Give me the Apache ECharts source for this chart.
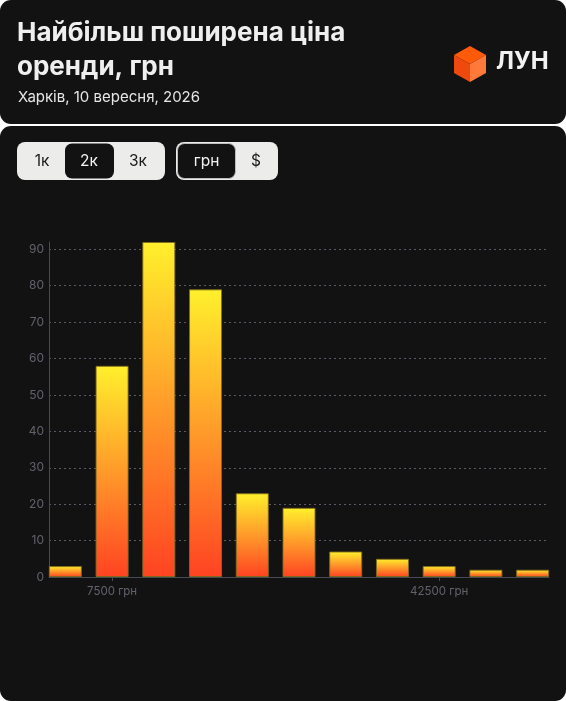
<!DOCTYPE html>
<html><head><meta charset="utf-8">
<script src="https://cdn.jsdelivr.net/npm/echarts@6/dist/echarts.min.js"></script>
<style>html,body{margin:0;padding:0;background:#fff}#c{width:566px;height:701px}</style>
</head><body><div id="c"></div>
<script>
const priceBins = [2500, 7500, 12500, 17500, 22500, 27500, 32500, 37500, 42500, 47500, 52500];
const counts = [3, 58, 92, 79, 23, 19, 7, 5, 3, 2, 2];
const xTickValues = [7500, 42500];
const yTicks = [0, 10, 20, 30, 40, 50, 60, 70, 80, 90];
const titleText = 'Найбільш поширена ціна\nоренди, грн';
const subtitleText = 'Харків, 10 вересня, 2026';
const stepButtons = ['1к', '2к', '3к'];
const currencyButtons = ['грн', '$'];

const chart = echarts.init(document.getElementById('c'), null, {renderer: 'canvas'});
const FONT = 'Inter, "Noto Sans", sans-serif';
const dark = '#121212';
const light = '#ececea';

const graphics = [
  {type: 'rect', z: -10, shape: {x: 0, y: 0, width: 566, height: 124, r: 11}, style: {fill: dark}},
  {type: 'rect', z: -10, shape: {x: 0, y: 126, width: 566, height: 575, r: 11}, style: {fill: dark}},
  {type: 'text', left: 17, top: 16, style: {text: titleText, fill: '#efefef', font: '700 26px ' + FONT, lineHeight: 34}},
  {type: 'text', left: 18, top: 90, style: {text: subtitleText, fill: '#e6e6e6', font: '400 15px ' + FONT}},
  // logo cube
  {type: 'polygon', shape: {points: [[470, 46], [486, 55], [470, 64], [454, 55]]}, style: {fill: '#ff5a0a'}},
  {type: 'polygon', shape: {points: [[454, 55], [470, 64], [470, 82], [454, 73]]}, style: {fill: '#ee4a10'}},
  {type: 'polygon', shape: {points: [[486, 55], [470, 64], [470, 82], [486, 73]]}, style: {fill: '#ff7a3a'}},
  {type: 'text', left: 496, top: 50, style: {text: 'ЛУН', fill: '#f2f2f2', font: '700 24px ' + FONT}},
  // buttons group 1
  {type: 'rect', shape: {x: 17, y: 142, width: 148, height: 38, r: 8}, style: {fill: light}},
  {type: 'rect', shape: {x: 65, y: 143.5, width: 49, height: 35, r: 7}, style: {fill: dark}},
  // buttons group 2
  {type: 'rect', shape: {x: 176, y: 142, width: 102, height: 38, r: 8}, style: {fill: light}},
  {type: 'rect', shape: {x: 177.5, y: 143.5, width: 58, height: 35, r: 7}, style: {fill: dark, stroke: '#bdbdbd', lineWidth: 1}}
];
const btnX1 = [42, 89, 138];
stepButtons.forEach((t, i) => graphics.push({type: 'text', x: btnX1[i], y: 161, style: {text: t, fill: i === 1 ? '#f2f2f2' : '#1a1a1a', font: '400 15.5px ' + FONT, align: 'center', verticalAlign: 'middle'}}));
const btnX2 = [206.5, 256];
currencyButtons.forEach((t, i) => graphics.push({type: 'text', x: btnX2[i], y: 161, style: {text: t, fill: i === 0 ? '#f2f2f2' : '#1a1a1a', font: '400 15.5px ' + FONT, align: 'center', verticalAlign: 'middle'}}));

chart.setOption({
  backgroundColor: '#ffffff',
  animation: false,
  graphic: graphics,
  grid: {left: 49, right: 17, top: 242, bottom: 124},
  xAxis: {
    type: 'value', min: 750, max: 54250,
    splitLine: {show: false},
    axisLine: {show: true, lineStyle: {color: '#4a4a55', width: 1}},
    axisTick: {show: true, customValues: xTickValues, length: 4, lineStyle: {color: '#4a4a55'}},
    axisLabel: {customValues: xTickValues, formatter: v => v + ' грн', color: '#62626d', fontSize: 11.5, fontFamily: FONT, margin: 9}
  },
  yAxis: {
    type: 'value', min: 0, max: 92, interval: 10,
    axisLine: {show: true, lineStyle: {color: '#4a4a55', width: 1}},
    axisTick: {show: false},
    axisLabel: {color: '#62626d', fontSize: 12, fontFamily: FONT, margin: 5, showMaxLabel: false,
      formatter: v => yTicks.includes(v) ? String(v) : ''},
    splitLine: {show: true, showMaxLine: false, lineStyle: {color: '#5a5a66', type: [2, 3], width: 1}}
  },
  series: [{
    type: 'bar',
    data: priceBins.map((p, i) => [p, counts[i]]),
    barWidth: 33,
    itemStyle: {
      color: new echarts.graphic.LinearGradient(0, 0, 0, 1, [
        {offset: 0, color: '#fff02c'},
        {offset: 0.5, color: '#ff9a2a'},
        {offset: 1, color: '#ff4322'}
      ]),
      borderColor: 'rgba(130,110,30,0.9)', borderWidth: 1
    }
  }]
});
</script></body></html>
